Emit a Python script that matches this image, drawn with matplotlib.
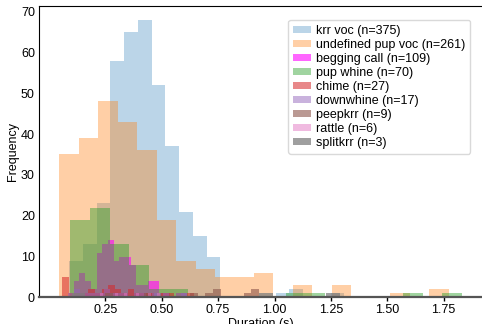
import numpy as np
import matplotlib.pyplot as plt

plt.rcParams['font.family'] = ['Liberation Sans', 'DejaVu Sans']
plt.rcParams['font.size'] = 9

# call types, drawn in this order
call_types = ['krr voc', 'undefined pup voc', 'begging call', 'pup whine', 'chime',
              'downwhine', 'peepkrr', 'rattle', 'splitkrr']
colors = ['tab:blue', 'tab:orange', 'magenta', 'tab:green', 'tab:red',
          'tab:purple', 'tab:brown', 'tab:pink', 'tab:gray']
alphas = [0.3, 0.37, 0.6, 0.45, 0.55, 0.5, 0.6, 0.5, 0.75]

# duration range (s) covered by each histogram (20 bins each)
dur_min = [0.089, 0.046, 0.110, 0.095, 0.058, 0.086, 0.250, 0.228, 0.100]
dur_max = [1.310, 1.772, 0.614, 1.830, 0.642, 0.613, 0.931, 0.493, 1.290]

krr_voc = [9, 13, 23, 58, 65, 68, 52, 37, 21, 15, 10, 0, 0, 0, 0, 1, 2, 0, 0, 1]
undefined_pup_voc = [35, 39, 48, 43, 36, 19, 9, 7, 5, 5, 6, 0, 3, 0, 3, 0, 0, 1, 0, 2]
begging_call = [4, 6, 4, 2, 11, 13, 14, 9, 10, 10, 8, 3, 3, 4, 4, 1, 1, 0, 1, 1]
pup_whine = [19, 22, 13, 8, 2, 2, 0, 0, 0, 0, 0, 1, 1, 0, 0, 0, 0, 1, 0, 1]
chime = [5, 1, 1, 1, 2, 1, 2, 3, 2, 1, 2, 1, 1, 1, 0, 1, 1, 0, 0, 1]
downwhine = [1, 2, 1, 1, 1, 1, 2, 1, 1, 1, 0, 1, 1, 0, 1, 0, 1, 0, 0, 1]
peepkrr = [1, 0, 0, 0, 0, 1, 0, 0, 0, 0, 0, 1, 0, 1, 2, 0, 0, 0, 1, 2]
rattle = [1, 0, 0, 0, 0, 1, 0, 0, 1, 0, 0, 0, 1, 0, 0, 0, 1, 0, 0, 1]
splitkrr = [1, 0, 0, 0, 0, 0, 0, 0, 0, 0, 0, 0, 0, 0, 1, 0, 0, 0, 0, 1]

counts = [krr_voc, undefined_pup_voc, begging_call, pup_whine, chime,
          downwhine, peepkrr, rattle, splitkrr]

xticks = [0.25, 0.50, 0.75, 1.00, 1.25, 1.50, 1.75]
yticks = [0, 10, 20, 30, 40, 50, 60, 70]

fig = plt.figure(figsize=(4.82, 3.24), dpi=100)
ax = fig.add_axes([0.081, 0.082, 0.919, 0.900])

for name, c, col, a, lo, hi in zip(call_types, counts, colors, alphas, dur_min, dur_max):
    edges = np.linspace(lo, hi, len(c) + 1)
    ax.hist(edges[:-1], bins=edges, weights=c, color=col, alpha=a,
            label=f'{name} (n={sum(c)})')

ax.set_xlim(-0.044, 1.92)
ax.set_ylim(0, 71.4)
ax.set_xticks(xticks)
ax.set_xticklabels([f'{t:.2f}' for t in xticks])
ax.set_yticks(yticks)
ax.tick_params(axis='x', length=3, width=1, pad=2)
ax.tick_params(axis='y', length=0, pad=3)
ax.spines['right'].set_visible(False)
ax.spines['bottom'].set_color('#555555')
ax.spines['bottom'].set_linewidth(1.6)
ax.set_xlabel('Duration (s)', labelpad=1)
ax.set_ylabel('Frequency', labelpad=1)

ax.legend(loc='upper right', bbox_to_anchor=(0.973, 0.952), borderaxespad=0,
          labelspacing=0.16, handlelength=1.4, handleheight=0.5,
          handletextpad=0.4, edgecolor='#d0d0d0', fancybox=True)

fig.savefig('out.png', dpi=100)
